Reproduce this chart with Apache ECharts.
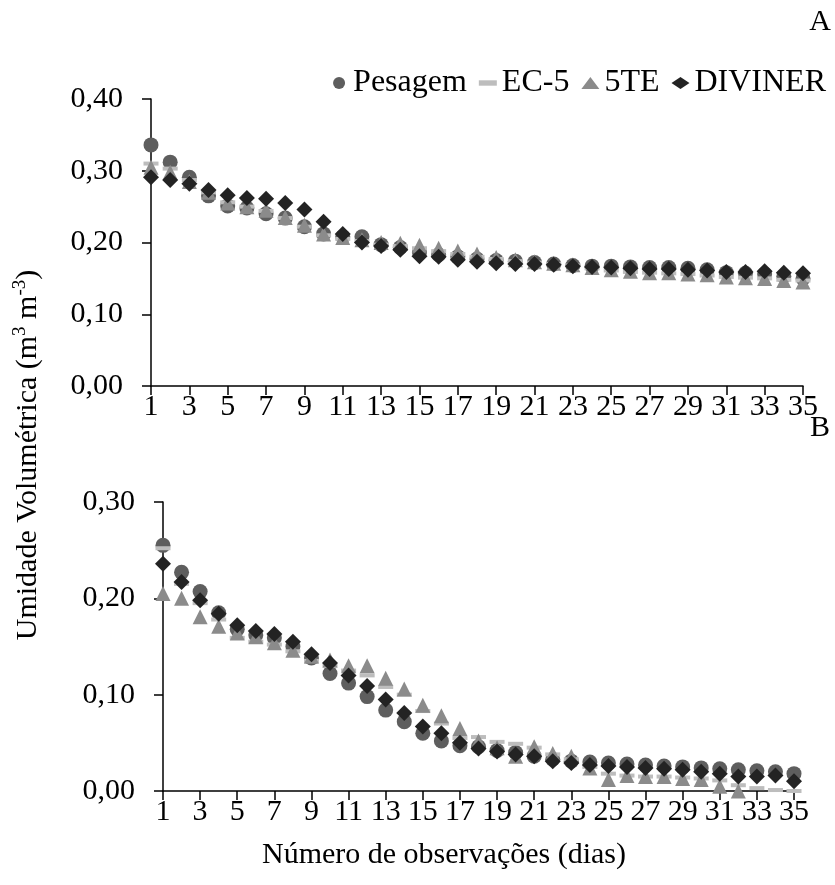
<!DOCTYPE html>
<html>
<head>
<meta charset="utf-8">
<script src="https://cdn.jsdelivr.net/npm/echarts@6/dist/echarts.min.js"></script>
<style>
  html, body { margin: 0; padding: 0; background: #ffffff; }
  #chart { width: 835px; height: 885px; }
</style>
</head>
<body>
<div id="chart"></div>
<script>
// Observation days (x categories)
const days = ['1','2','3','4','5','6','7','8','9','10','11','12','13','14','15','16','17','18',
              '19','20','21','22','23','24','25','26','27','28','29','30','31','32','33','34','35'];

// Panel A - volumetric moisture (m3 m-3)
const pesagemA = [0.336,0.312,0.291,0.265,0.251,0.248,0.240,0.234,0.222,0.212,0.208,0.208,0.197,0.193,0.186,0.183,0.180,0.177,
                  0.175,0.174,0.172,0.170,0.168,0.167,0.167,0.166,0.165,0.165,0.164,0.162,0.158,0.157,0.156,0.153,0.150];
const ec5A     = [0.310,0.303,0.287,0.270,0.256,0.250,0.244,0.234,0.222,0.210,0.205,0.202,0.197,0.195,0.192,0.188,0.184,0.180,
                  0.177,0.174,0.172,0.170,0.168,0.164,0.161,0.159,0.158,0.157,0.156,0.154,0.152,0.151,0.150,0.148,0.147];
const teA      = [0.305,0.298,0.285,0.270,0.255,0.250,0.245,0.235,0.224,0.212,0.207,0.204,0.200,0.199,0.196,0.192,0.188,0.184,
                  0.179,0.176,0.173,0.171,0.169,0.165,0.162,0.160,0.158,0.158,0.156,0.155,0.152,0.151,0.150,0.147,0.145];
const divinerA = [0.291,0.287,0.282,0.273,0.266,0.262,0.261,0.255,0.246,0.229,0.212,0.200,0.195,0.190,0.181,0.180,0.176,0.173,
                  0.171,0.170,0.170,0.169,0.167,0.166,0.165,0.164,0.163,0.163,0.162,0.161,0.159,0.159,0.160,0.158,0.157];

// Panel B - volumetric moisture (m3 m-3)
const pesagemB = [0.255,0.227,0.207,0.185,0.168,0.162,0.159,0.150,0.138,0.122,0.112,0.098,0.084,0.072,0.060,0.052,0.047,0.046,
                  0.042,0.040,0.036,0.033,0.031,0.030,0.029,0.028,0.027,0.026,0.025,0.024,0.023,0.022,0.021,0.020,0.018];
const ec5B     = [0.252,0.215,0.195,0.178,0.159,0.155,0.152,0.145,0.135,0.130,0.125,0.120,0.108,0.100,0.083,0.070,0.055,0.056,
                  0.051,0.049,0.045,0.038,0.033,0.025,0.018,0.016,0.015,0.015,0.014,0.013,0.011,0.006,0.003,0.001,0.000];
const teB      = [0.205,0.200,0.181,0.171,0.164,0.160,0.154,0.146,0.140,0.136,0.130,0.130,0.117,0.106,0.089,0.078,0.065,0.052,
                  0.045,0.036,0.046,0.039,0.036,0.024,0.012,0.016,0.015,0.015,0.013,0.012,0.005,0.000,null,null,null];
const divinerB = [0.236,0.217,0.198,0.184,0.172,0.166,0.163,0.155,0.142,0.133,0.120,0.109,0.095,0.081,0.067,0.060,0.050,0.044,
                  0.041,0.038,0.036,0.031,0.029,0.027,0.026,0.025,0.024,0.023,0.022,0.020,0.018,0.015,0.015,0.016,0.010];

const seriesNames = ['Pesagem', 'EC-5', '5TE', 'DIVINER'];

const FONT = 'Liberation Serif';
const FS = 30;
const INK = '#000000';

// marker look per sensor
const looks = {
  'Pesagem': { symbol: 'circle',   size: 15,       color: '#5e5e5e' },
  'EC-5':    { symbol: 'rect',     size: [15, 4],  color: '#bdbdbd' },
  '5TE':     { symbol: 'triangle', size: 15,       color: '#8b8b8b' },
  'DIVINER': { symbol: 'diamond',  size: 16,       color: '#232323' }
};

const panelA = { 'Pesagem': pesagemA, 'EC-5': ec5A, '5TE': teA, 'DIVINER': divinerA };
const panelB = { 'Pesagem': pesagemB, 'EC-5': ec5B, '5TE': teB, 'DIVINER': divinerB };

function makeSeries(panel, idx) {
  return seriesNames.map(name => ({
    name: name,
    type: 'scatter',
    xAxisIndex: idx,
    yAxisIndex: idx,
    symbol: looks[name].symbol,
    symbolSize: looks[name].size,
    itemStyle: { color: looks[name].color, opacity: 1 },
    emphasis: { disabled: true },
    data: panel[name]
  }));
}

function xAxis(idx) {
  return {
    type: 'category',
    gridIndex: idx,
    data: days,
    boundaryGap: false,
    axisLine: { lineStyle: { color: INK, width: 1.5 } },
    axisTick: { interval: 1, length: 9, lineStyle: { color: INK, width: 1.5 } },
    axisLabel: { interval: 1, color: INK, fontFamily: FONT, fontSize: FS, margin: 6 }
  };
}

function yAxis(idx, max) {
  return {
    type: 'value',
    gridIndex: idx,
    min: 0,
    max: max,
    interval: 0.1,
    axisLine: { show: true, lineStyle: { color: INK, width: 1.5 } },
    axisTick: { show: true, length: 9, lineStyle: { color: INK, width: 1.5 } },
    splitLine: { show: false },
    axisLabel: {
      color: INK, fontFamily: FONT, fontSize: FS, margin: 28,
      formatter: v => v.toFixed(2).replace('.', ',')
    }
  };
}

const chart = echarts.init(document.getElementById('chart'), null, { renderer: 'canvas' });

chart.setOption({
  backgroundColor: '#ffffff',
  animation: false,
  grid: [
    { left: 151, top: 99,  width: 652, height: 287 },
    { left: 163, top: 502, width: 631, height: 289 }
  ],
  xAxis: [xAxis(0), xAxis(1)],
  yAxis: [yAxis(0, 0.4), yAxis(1, 0.3)],
  legend: {
    right: 4,
    top: 62,
    itemWidth: 18,
    itemHeight: 12,
    itemGap: 12,
    selectedMode: false,
    textStyle: { color: INK, fontFamily: FONT, fontSize: 32 },
    data: [
      { name: 'Pesagem', icon: 'circle', itemStyle: { color: looks['Pesagem'].color } },
      { name: 'EC-5', icon: 'path://M0,0h10v3h-10z', itemStyle: { color: looks['EC-5'].color } },
      { name: '5TE', icon: 'triangle', itemStyle: { color: looks['5TE'].color } },
      { name: 'DIVINER', icon: 'diamond', itemStyle: { color: looks['DIVINER'].color } }
    ]
  },
  graphic: [
    { type: 'text', x: 820, y: 22, style: { text: 'A', fill: INK, font: FS + 'px "' + FONT + '"', align: 'center', verticalAlign: 'middle' } },
    { type: 'text', x: 820, y: 428, style: { text: 'B', fill: INK, font: FS + 'px "' + FONT + '"', align: 'center', verticalAlign: 'middle' } },
    { type: 'text', x: 444, y: 855, style: { text: 'Número de observações (dias)', fill: INK, font: FS + 'px "' + FONT + '"', align: 'center', verticalAlign: 'middle' } },
    {
      type: 'text', x: 28, y: 455, rotation: Math.PI / 2,
      style: {
        text: '{n|Umidade Volumétrica (m}{s|3}{n| m}{s|-3}{n|)}',
        align: 'center', verticalAlign: 'middle',
        rich: {
          n: { fill: INK, fontFamily: FONT, fontSize: FS, lineHeight: 34 },
          s: { fill: INK, fontFamily: FONT, fontSize: 19, lineHeight: 34, verticalAlign: 'top' }
        }
      }
    }
  ],
  series: makeSeries(panelA, 0).concat(makeSeries(panelB, 1))
});
</script>
</body>
</html>
